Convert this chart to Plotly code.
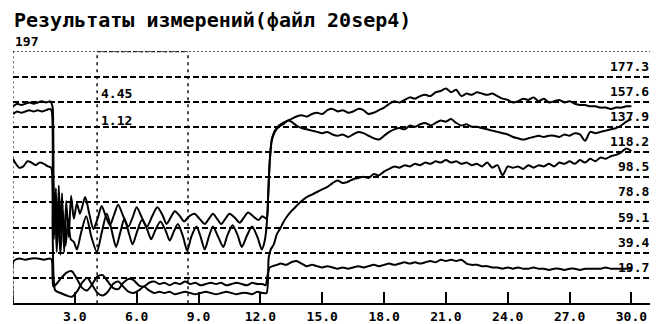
import numpy as np
import plotly.graph_objects as go

# ---- measured channels (time in seconds, values in device units) ----
# channel 1: upper oscillating trace, rises to the top curve after t = 12.3
ch1_t_early = [0.0, 0.2, 0.4, 0.6, 0.8, 1.0, 1.2, 1.4, 1.6, 1.8, 1.88, 1.93, 1.97, 2.02, 2.08, 2.15,
               2.22, 2.30, 2.38, 2.48, 2.58, 2.70, 2.82, 2.95, 3.10, 3.25, 3.50, 3.70, 3.90, 4.10,
               4.30, 4.50, 4.70, 4.90, 5.10, 5.35, 5.60, 5.80, 6.00, 6.25, 6.50, 6.75, 7.00, 7.25,
               7.45, 7.65, 7.85, 8.10, 8.30, 8.55, 8.80, 9.05, 9.30, 9.50, 9.70, 9.90, 10.10, 10.30,
               10.50, 10.75, 11.00, 11.20, 11.40, 11.65, 11.90, 12.10, 12.30, 12.38, 12.45, 12.55,
               12.70, 12.90, 13.10, 13.35]
ch1_v_early = [154, 156, 155, 156, 157, 156, 157, 158, 157, 158, 156, 152, 95, 62, 90, 48,
               92, 55, 86, 40, 80, 52, 84, 66, 78, 70, 83, 70, 58, 66,
               76, 68, 61, 69, 77, 68, 60, 67, 75, 67, 60, 68, 75, 69,
               62, 67, 72, 68, 64, 68, 70, 66, 62, 66, 70, 66, 62, 66,
               70, 67, 63, 67, 71, 68, 65, 68, 66, 85, 110, 128,
               135, 139, 141, 143]

# channel 2: lower oscillating trace, rises to the middle curve
ch2_t_early = [0.0, 0.2, 0.4, 0.6, 0.8, 1.0, 1.2, 1.4, 1.6, 1.8, 1.88, 1.93, 1.98, 2.05, 2.12, 2.20,
               2.30, 2.42, 2.55, 2.68, 2.80, 2.95, 3.10, 3.30, 3.55, 3.80, 4.07, 4.30, 4.55, 4.80,
               5.00, 5.20, 5.40, 5.60, 5.80, 6.00, 6.25, 6.50, 6.70, 6.90, 7.15, 7.40, 7.60, 7.80,
               8.00, 8.25, 8.45, 8.65, 8.90, 9.10, 9.30, 9.50, 9.70, 9.95, 10.20, 10.40, 10.65,
               10.90, 11.10, 11.35, 11.60, 11.85, 12.07, 12.20, 12.30, 12.38, 12.45, 12.55, 12.70,
               12.90, 13.10, 13.35]
ch2_v_early = [148, 150, 149, 150, 151, 150, 151, 150, 151, 152, 150, 90, 50, 75, 40, 70,
               38, 72, 45, 66, 50, 48, 42, 55, 68, 52, 40, 55, 70, 56,
               44, 55, 66, 56, 46, 55, 65, 58, 50, 57, 64, 57, 49, 56,
               62, 52, 41, 52, 60, 52, 42, 52, 60, 52, 44, 53, 61,
               53, 44, 53, 60, 52, 42, 48, 60, 85, 110, 127, 134,
               138, 140, 143]

# channel 3: starts near 108, sits low, then climbs slowly after t = 12.4
ch3_t_early = [0.0, 0.1, 0.3, 0.5, 0.7, 0.9, 1.1, 1.3, 1.5, 1.7, 1.85, 1.92, 1.97, 2.05, 2.30, 2.60,
               2.85, 3.10, 3.35, 3.60, 3.85, 4.10, 4.35, 4.60, 4.85, 5.10, 5.35, 5.60, 5.85, 6.10,
               6.35, 6.60, 6.85, 7.10, 7.35, 7.60, 7.85, 8.10, 8.35, 8.60, 8.85, 9.10, 9.35, 9.60,
               9.85, 10.10, 10.35, 10.60, 10.85, 11.10, 11.35, 11.60, 11.85, 12.10, 12.30, 12.40,
               12.50, 12.65, 12.80, 12.95, 13.10, 13.30]
ch3_v_early = [113, 110, 106, 107, 111, 110, 108, 110, 109, 107, 106, 60, 20, 10, 8, 6,
               5, 9, 16, 20, 14, 8, 6, 9, 15, 17, 13, 9, 8, 10,
               13, 10, 8, 9, 8, 9, 7, 8, 9, 8, 7, 8, 9, 8,
               7, 8, 9, 8, 7, 8, 8, 7, 9, 8, 8, 35,
               42, 46, 54, 58, 63, 68]

# channel 4: bottom trace
ch4_t_early = [0.0, 0.03, 0.3, 0.6, 0.9, 1.2, 1.5, 1.8, 1.88, 1.92, 1.96, 2.10, 2.35, 2.60, 2.85,
               3.10, 3.35, 3.60, 3.85, 4.10, 4.35, 4.60, 4.85, 5.10, 5.35, 5.60, 5.85, 6.10, 6.35,
               6.60, 6.85, 7.10, 7.35, 7.60, 7.85, 8.10, 8.35, 8.60, 8.85, 9.10, 9.35, 9.60, 9.85,
               10.10, 10.35, 10.60, 10.85, 11.10, 11.35, 11.60, 11.85, 12.10, 12.25, 12.35, 12.45,
               12.60, 12.80, 13.00, 13.25]
ch4_v_early = [0, 33, 35, 34, 35, 35, 34, 35, 34, 20, 13, 15, 20, 24, 25,
               19, 12, 10, 15, 21, 22, 17, 12, 11, 16, 19, 18, 14, 13,
               16, 17, 15, 16, 14, 16, 15, 17, 15, 16, 14, 15, 16, 15,
               16, 14, 15, 16, 15, 14, 16, 15, 15, 14, 22, 28,
               29, 30, 31, 30]

# common time grid after the step, 13.5 .. 30.0 s every 0.25 s
t_late = np.round(np.arange(13.5, 30.001, 0.25), 2)
ch1_v_late = [144, 146,
              147, 146, 148, 149, 148, 151, 152, 150, 151, 149, 150, 152, 151, 148, 149, 151,
              153, 156, 158, 157, 159, 161, 160, 162, 163, 162, 165, 166, 168, 165, 167, 162,
              164, 163, 165, 164, 163, 164, 162, 160, 159, 157, 158, 160, 159, 161, 158, 160,
              157, 158, 159, 157, 158, 156, 155, 155, 154, 154, 153, 153, 152, 153, 153, 154,
              154]
ch2_v_late = [142, 139,
              137, 136, 135, 134, 133, 134, 132, 131, 132, 130, 132, 134, 133, 131, 129, 128,
              131, 134, 136, 137, 136, 139, 138, 140, 141, 139, 141, 143, 142, 144, 141, 139,
              140, 138, 138, 137, 136, 135, 134, 133, 132, 130, 129, 128, 129, 130, 131, 130,
              131, 131, 130, 132, 131, 133, 132, 127, 134, 133, 134, 135, 136, 137, 139, 142,
              144]
ch3_v_late = [72, 76,
              80, 83, 85, 87, 89, 91, 94, 96, 94, 95, 97, 98, 99, 98, 101, 100,
              103, 105, 107, 106, 108, 107, 109, 108, 110, 109, 111, 110, 112, 110, 111, 109,
              110, 108, 109, 107, 110, 106, 108, 100, 107, 106, 107, 105, 108, 106, 108, 107,
              109, 107, 110, 109, 111, 109, 112, 110, 113, 111, 114, 113, 115, 116, 118, 121,
              119]
ch4_v_late = [32, 33,
              31, 29, 30, 29, 28, 29, 28, 27, 28, 27, 28, 29, 28, 29, 30, 29,
              30, 31, 30, 31, 32, 31, 32, 31, 32, 33, 32, 34, 33, 34, 33, 34,
              31, 30, 30, 29, 29, 28, 28, 27, 28, 27, 28, 27, 27, 28, 27, 27,
              26, 27, 27, 26, 27, 27, 26, 27, 27, 27, 27, 28, 27, 27, 27, 27,
              27]

# scale levels (full scale 197, ten divisions)
full_scale = 197
level_values = [19.7, 39.4, 59.1, 78.8, 98.5, 118.2, 137.9, 157.6, 177.3]
x_ticks = [3, 6, 9, 12, 15, 18, 21, 24, 27, 30]
cursor_t = [4.08, 8.49]
cursor_text = ["4.45", "1.12"]
title_text = "Результаты измерений(файл 20sep4)"

NUM_FONT = dict(family="DejaVu Sans Mono", size=13, color="black", weight="bold")

fig = go.Figure()
channels = [
    (ch1_t_early, ch1_v_early, ch1_v_late),
    (ch2_t_early, ch2_v_early, ch2_v_late),
    (ch3_t_early, ch3_v_early, ch3_v_late),
    (ch4_t_early, ch4_v_early, ch4_v_late),
]
for t_e, v_e, v_l in channels:
    fig.add_trace(go.Scatter(
        x=list(t_e) + list(t_late), y=list(v_e) + list(v_l),
        mode="lines", line=dict(color="black", width=2, shape="spline", smoothing=0.7),
        showlegend=False, hoverinfo="skip",
    ))

W, H = 659, 324
x_dom = [13 / W, 650 / W]
y_dom = [(H - 307) / H, (H - 52) / H]

fig.update_layout(
    width=W, height=H, autosize=False,
    margin=dict(l=0, r=0, t=0, b=0),
    paper_bgcolor="white", plot_bgcolor="white",
    xaxis=dict(
        domain=x_dom, range=[0, 30.9],
        tickmode="array", tickvals=x_ticks, ticktext=[f"{v:.1f}" for v in x_ticks],
        ticks="inside", ticklen=11, tickwidth=1.5, tickcolor="black",
        tickfont=NUM_FONT,
        showgrid=False, zeroline=False,
        showline=True, linecolor="black", linewidth=2,
    ),
    yaxis=dict(
        domain=y_dom, range=[0, full_scale],
        tickmode="array", tickvals=level_values, showticklabels=False, ticks="",
        showgrid=True, gridcolor="black", gridwidth=2, griddash="6px,3px",
        zeroline=False, showline=False,
    ),
)

# top of scale, left border and cursor lines
fig.add_shape(type="line", xref="x domain", yref="y", x0=0, x1=1, y0=full_scale, y1=full_scale,
              line=dict(color="black", width=1, dash="2px,2px"))
fig.add_shape(type="line", xref="x", yref="y", x0=cursor_t[0], x1=cursor_t[1],
              y0=full_scale, y1=full_scale, line=dict(color="black", width=1.6, dash="4px,2px"))
fig.add_shape(type="line", xref="x", yref="y", x0=0, x1=0, y0=0, y1=full_scale,
              line=dict(color="black", width=1.2, dash="2px,3px"))
for ct in cursor_t:
    fig.add_shape(type="line", xref="x", yref="y", x0=ct, x1=ct, y0=0, y1=full_scale,
                  line=dict(color="black", width=1.4, dash="3px,4px"))

# level labels at the right edge
for lv in level_values:
    fig.add_annotation(x=651 / W, xref="paper", xanchor="right", y=lv, yref="y",
                       yanchor="bottom", yshift=1, text=f"{lv:.1f}", showarrow=False,
                       font=NUM_FONT)

fig.add_annotation(x=12 / W, xref="paper", xanchor="left", y=1 - 20 / H, yref="paper",
                   yanchor="middle", text=title_text, showarrow=False,
                   font=dict(family="DejaVu Sans Mono", size=20, color="black", weight="bold"))
fig.add_annotation(x=13 / W, xref="paper", xanchor="left", y=1 - 42 / H, yref="paper",
                   yanchor="middle", text=str(full_scale), showarrow=False, font=NUM_FONT)
for txt, ypx in zip(cursor_text, [95, 122]):
    fig.add_annotation(x=cursor_t[0], xref="x", xanchor="left", xshift=2, y=1 - ypx / H,
                       yref="paper", yanchor="middle", text=txt, showarrow=False, font=NUM_FONT)

fig.write_html("out.html")
